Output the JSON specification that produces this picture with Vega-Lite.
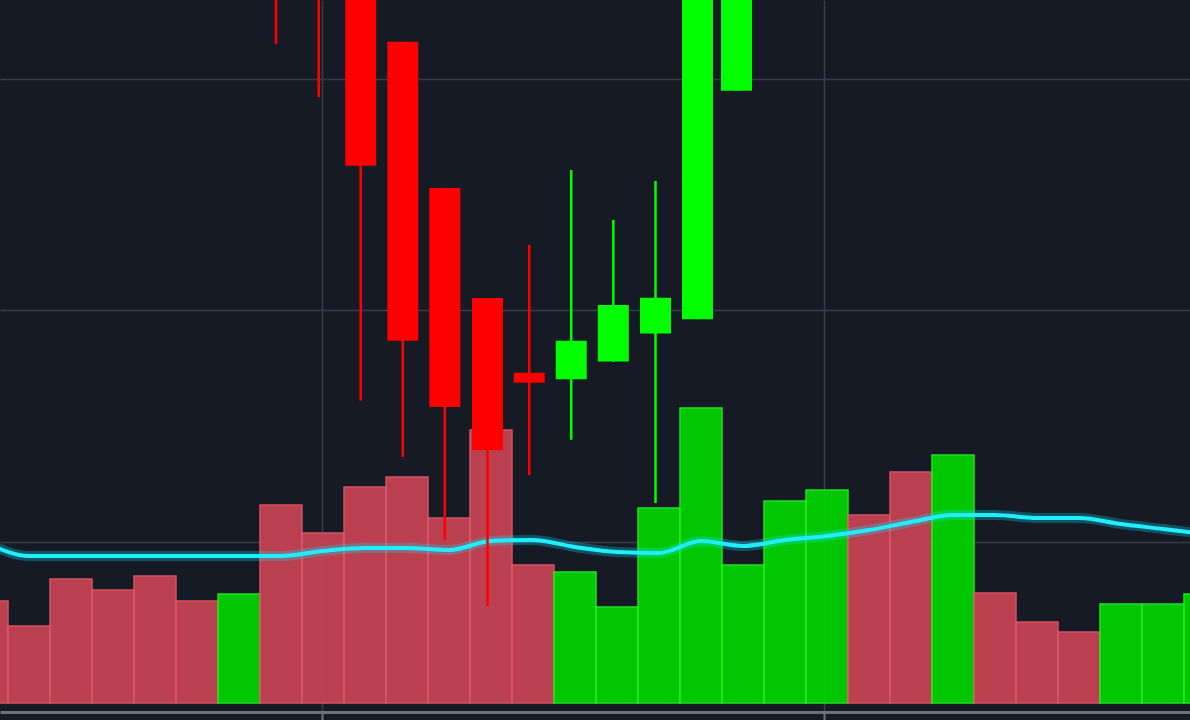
{
  "$schema": "https://vega.github.io/schema/vega-lite/v6.json",
  "width": 1190,
  "height": 720,
  "autosize": {"type": "none"},
  "padding": 0,
  "background": "#161a25",
  "config": {
    "view": {"stroke": null, "fill": "#161a25"},
    "scale": {"continuousPadding": 0}
  },
  "datasets": {
    "volume": [
      {"t": -1, "v": 1020, "dir": "down", "ma": 1600},
      {"t": 0, "v": 770, "dir": "down", "ma": 1470},
      {"t": 1, "v": 1240, "dir": "down", "ma": 1470},
      {"t": 2, "v": 1130, "dir": "down", "ma": 1470},
      {"t": 3, "v": 1270, "dir": "down", "ma": 1470},
      {"t": 4, "v": 1020, "dir": "down", "ma": 1470},
      {"t": 5, "v": 1090, "dir": "up", "ma": 1470},
      {"t": 6, "v": 1980, "dir": "down", "ma": 1470},
      {"t": 7, "v": 1700, "dir": "down", "ma": 1520},
      {"t": 8, "v": 2160, "dir": "down", "ma": 1550},
      {"t": 9, "v": 2260, "dir": "down", "ma": 1550},
      {"t": 10, "v": 1850, "dir": "down", "ma": 1530},
      {"t": 11, "v": 2730, "dir": "down", "ma": 1620},
      {"t": 12, "v": 1380, "dir": "down", "ma": 1630},
      {"t": 13, "v": 1310, "dir": "up", "ma": 1560},
      {"t": 14, "v": 960, "dir": "up", "ma": 1510},
      {"t": 15, "v": 1950, "dir": "up", "ma": 1500},
      {"t": 16, "v": 2950, "dir": "up", "ma": 1620},
      {"t": 17, "v": 1380, "dir": "up", "ma": 1570},
      {"t": 18, "v": 2020, "dir": "up", "ma": 1630},
      {"t": 19, "v": 2130, "dir": "up", "ma": 1670},
      {"t": 20, "v": 1880, "dir": "down", "ma": 1730},
      {"t": 21, "v": 2310, "dir": "down", "ma": 1810},
      {"t": 22, "v": 2480, "dir": "up", "ma": 1880},
      {"t": 23, "v": 1100, "dir": "down", "ma": 1880},
      {"t": 24, "v": 810, "dir": "down", "ma": 1850},
      {"t": 25, "v": 710, "dir": "down", "ma": 1850},
      {"t": 26, "v": 990, "dir": "up", "ma": 1790},
      {"t": 27, "v": 990, "dir": "up", "ma": 1740},
      {"t": 28, "v": 1090, "dir": "up", "ma": 1690}
    ],
    "candles": [
      {"t": 5.881, "open": 126.0, "close": 124.5, "high": 126.5, "low": 121.5, "dir": "down"},
      {"t": 6.898, "open": 127.0, "close": 125.0, "high": 127.5, "low": 119.2, "dir": "down"},
      {"t": 7.898, "open": 125.0, "close": 116.24, "high": 125.5, "low": 106.1, "dir": "down"},
      {"t": 8.9, "open": 121.6, "close": 108.68, "high": 121.6, "low": 103.66, "dir": "down"},
      {"t": 9.9, "open": 115.28, "close": 105.82, "high": 115.28, "low": 100.08, "dir": "down"},
      {"t": 10.917, "open": 110.53, "close": 103.96, "high": 110.53, "low": 97.22, "dir": "down"},
      {"t": 11.91, "open": 107.3, "close": 106.87, "high": 112.82, "low": 102.88, "dir": "down"},
      {"t": 12.91, "open": 107.02, "close": 108.68, "high": 116.06, "low": 104.4, "dir": "up"},
      {"t": 13.912, "open": 107.78, "close": 110.23, "high": 113.9, "low": 107.78, "dir": "up"},
      {"t": 14.917, "open": 109.0, "close": 110.54, "high": 115.58, "low": 101.67, "dir": "up"},
      {"t": 15.917, "open": 109.61, "close": 125.0, "high": 125.5, "low": 109.61, "dir": "up"},
      {"t": 16.845, "open": 119.48, "close": 126.0, "high": 126.5, "low": 119.48, "dir": "up"}
    ]
  },
  "resolve": {"scale": {"y": "independent", "color": "independent", "stroke": "independent"}},
  "layer": [
    {
      "data": {"name": "volume"},
      "mark": {"type": "bar", "width": 42, "clip": true, "strokeWidth": 1.5, "opacity": 0.92},
      "encoding": {
        "x": {
          "field": "t", "type": "quantitative",
          "scale": {"domain": [-0.690476, 27.642857], "nice": false, "zero": false, "padding": 0},
          "axis": {
            "values": [6.976, 18.929], "grid": true, "gridColor": "#383c4b", "gridWidth": 1.5,
            "labels": false, "ticks": true, "tickSize": 8, "tickColor": "#6e717c", "tickWidth": 2,
            "domain": true, "domainColor": "#6e717c", "domainWidth": 3, "offset": -8, "title": null,
            "minExtent": 0, "maxExtent": 0
          }
        },
        "y": {
          "field": "v", "type": "quantitative",
          "scale": {"domain": [-170, 7030], "nice": false, "zero": false},
          "axis": null
        },
        "y2": {"datum": 0},
        "color": {
          "field": "dir", "type": "nominal",
          "scale": {"domain": ["up", "down"], "range": ["#00d600", "#c84454"]},
          "legend": null
        },
        "stroke": {
          "field": "dir", "type": "nominal",
          "scale": {"domain": ["up", "down"], "range": ["#22f222", "#e45868"]},
          "legend": null
        }
      }
    },
    {
      "data": {"name": "volume"},
      "mark": {"type": "line", "clip": true, "interpolate": "monotone", "color": "#00e5ff", "strokeWidth": 10, "opacity": 0.28},
      "encoding": {
        "x": {"field": "t", "type": "quantitative"},
        "y": {"field": "ma", "type": "quantitative", "scale": {"domain": [-170, 7030], "nice": false, "zero": false}, "axis": null}
      }
    },
    {
      "data": {"name": "volume"},
      "mark": {"type": "line", "clip": true, "interpolate": "monotone", "color": "#22eeff", "strokeWidth": 4},
      "encoding": {
        "x": {"field": "t", "type": "quantitative"},
        "y": {"field": "ma", "type": "quantitative", "scale": {"domain": [-170, 7030], "nice": false, "zero": false}, "axis": null}
      }
    },
    {
      "data": {"name": "candles"},
      "mark": {"type": "rule", "clip": true, "strokeWidth": 2.5},
      "encoding": {
        "x": {"field": "t", "type": "quantitative"},
        "y": {
          "field": "low", "type": "quantitative",
          "scale": {"domain": [92.3, 123.4], "nice": false, "zero": false},
          "axis": {"values": [100, 110, 120], "grid": true, "gridColor": "#383c4b", "gridWidth": 1.5, "labels": false, "ticks": false, "domain": false, "title": null, "minExtent": 0, "maxExtent": 0}
        },
        "y2": {"field": "high"},
        "color": {
          "field": "dir", "type": "nominal",
          "scale": {"domain": ["up", "down"], "range": ["#00ff00", "#ff0000"]},
          "legend": null
        }
      }
    },
    {
      "data": {"name": "candles"},
      "mark": {"type": "bar", "clip": true, "width": 31},
      "encoding": {
        "x": {"field": "t", "type": "quantitative"},
        "y": {"field": "open", "type": "quantitative", "scale": {"domain": [92.3, 123.4], "nice": false, "zero": false}, "axis": null},
        "y2": {"field": "close"},
        "color": {
          "field": "dir", "type": "nominal",
          "scale": {"domain": ["up", "down"], "range": ["#00ff00", "#ff0000"]},
          "legend": null
        }
      }
    }
  ]
}
